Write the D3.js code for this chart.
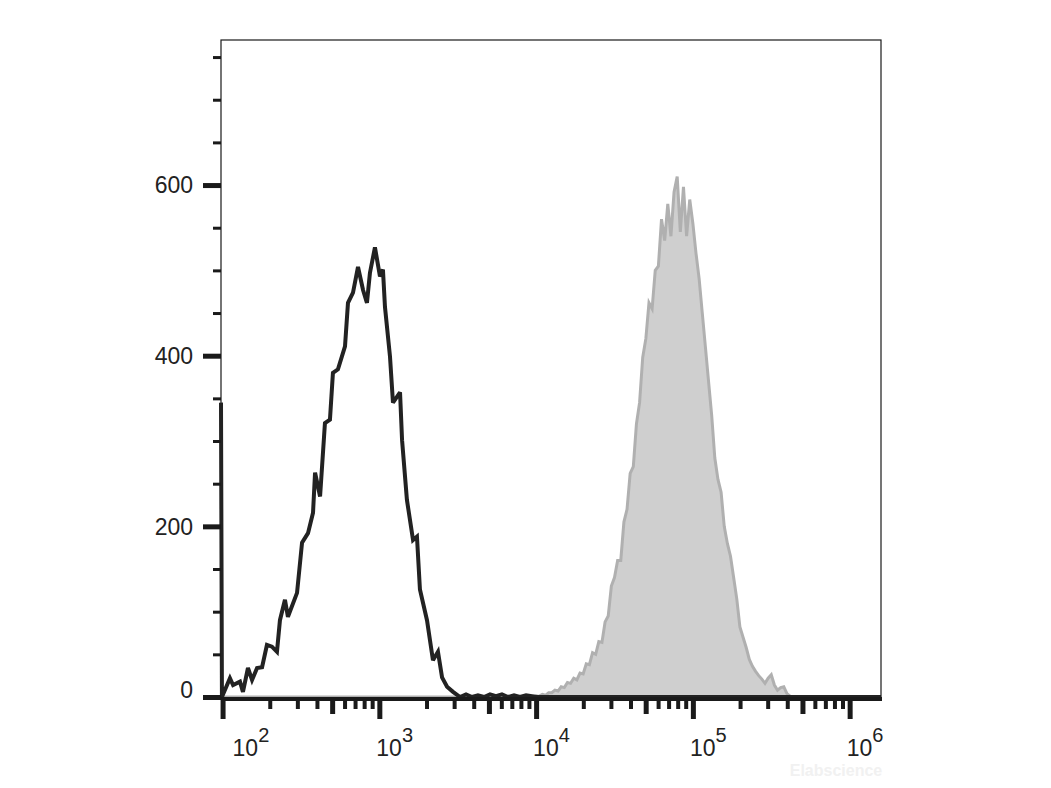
<!DOCTYPE html>
<html><head><meta charset="utf-8">
<script src="https://cdn.jsdelivr.net/npm/d3@7/dist/d3.min.js"></script>
<style>
body{margin:0;background:#fff}
svg{display:block}
text{font-family:"Liberation Sans",Arial,Helvetica,sans-serif}
</style>
</head><body>
<svg id="chart" width="1051" height="788"></svg>
<script>
// ---------- data ----------
const xDecades = [1e2, 1e3, 1e4, 1e5, 1e6];
const xDecadeExponents = ["2", "3", "4", "5", "6"];
const yMajorTicks = [0, 200, 400, 600];
const yMinorTicks = [50, 100, 150, 250, 300, 350, 450, 500, 550, 650, 700, 750];

// unstained / isotype (black outline) : log10(intensity), counts
const blackLogX = [1.990, 1.996, 2.047, 2.067, 2.111, 2.130, 2.162, 2.188, 2.220, 2.252,
  2.283, 2.315, 2.347, 2.366, 2.398, 2.417, 2.475, 2.507, 2.545, 2.577,
  2.590, 2.622, 2.653, 2.685, 2.704, 2.736, 2.781, 2.800, 2.832, 2.864,
  2.896, 2.921, 2.940, 2.972, 3.004, 3.023, 3.036, 3.068, 3.087, 3.132,
  3.145, 3.176, 3.215, 3.240, 3.259, 3.304, 3.342, 3.374, 3.400, 3.432,
  3.470, 3.515, 3.553, 3.591, 3.629, 3.668, 3.706, 3.744, 3.782, 3.821,
  3.859, 3.897, 3.936, 3.974, 4.012, 6.200];
const blackCounts = [345, 0, 22, 14, 18, 6, 34, 20, 34, 35,
  61, 59, 53, 90, 114, 94, 122, 181, 192, 216,
  263, 235, 321, 325, 380, 384, 411, 462, 474, 504,
  477, 462, 497, 527, 493, 501, 457, 399, 345, 357,
  301, 231, 184, 188, 126, 90, 43, 53, 23, 12,
  6, 0, 3, 0, 2, 0, 3, 1, 3, 0,
  2, 0, 2, 1, 0, 0];

// stained sample (grey filled) : log10(intensity), counts
const grayLogX = [1.99, 3.98,
  4.00, 4.02, 4.04, 4.06, 4.08, 4.10, 4.12, 4.14, 4.16, 4.18,
  4.20, 4.22, 4.24, 4.26, 4.28, 4.30, 4.32, 4.34, 4.36, 4.38,
  4.40, 4.42, 4.44, 4.46, 4.48, 4.50, 4.52, 4.54, 4.56, 4.58,
  4.60, 4.62, 4.64, 4.66, 4.68, 4.70, 4.72, 4.74, 4.76, 4.78,
  4.80, 4.82, 4.84, 4.86, 4.88, 4.90, 4.92, 4.94, 4.96, 4.98,
  5.00, 5.02, 5.04, 5.06, 5.08, 5.10, 5.12, 5.14, 5.16, 5.18,
  5.20, 5.22, 5.24, 5.26, 5.28, 5.30, 5.32, 5.34, 5.36, 5.38,
  5.40, 5.42, 5.44, 5.46, 5.48, 5.50, 5.52, 5.54, 5.56, 5.58,
  5.60, 5.62, 5.64, 6.20];
const grayCounts = [0, 0,
  1, 1, 3, 2, 5, 5, 8, 7, 12, 11,
  17, 16, 22, 20, 28, 27, 39, 38, 52, 50,
  65, 64, 88, 95, 130, 140, 160, 160, 205, 220,
  262, 270, 320, 345, 398, 420, 462, 455, 500, 505,
  560, 535, 578, 540, 592, 610, 545, 598, 540, 583,
  555, 520, 490, 450, 410, 370, 330, 280, 255, 240,
  200, 180, 165, 140, 115, 82, 70, 58, 44, 36,
  30, 25, 21, 16, 22, 26, 14, 8, 11, 12,
  4, 1, 0, 0];

// ---------- layout ----------
const plot = {left: 221, right: 881, top: 40, bottom: 697};
const svg = d3.select("#chart");

const x = d3.scaleLog().domain([Math.pow(10, 1.99), Math.pow(10, 6.2)]).range([plot.left, plot.right]);
const y = d3.scaleLinear().domain([0, 770]).range([plot.bottom, plot.top]);

const black = blackLogX.map((l, i) => ({x: Math.pow(10, l), v: blackCounts[i]}));
const gray = grayLogX.map((l, i) => ({x: Math.pow(10, l), v: grayCounts[i]}));

// frame
svg.append("rect")
  .attr("x", plot.left).attr("y", plot.top)
  .attr("width", plot.right - plot.left).attr("height", plot.bottom - plot.top)
  .attr("fill", "none").attr("stroke", "#1a1a1a").attr("stroke-width", 1.2);

// grey filled histogram
const area = d3.area().x(d => x(d.x)).y0(y(0)).y1(d => y(d.v));
const line = d3.line().x(d => x(d.x)).y(d => y(d.v));
svg.append("path").datum(gray).attr("d", area).attr("fill", "#cfcfcf");
svg.append("path").datum(gray).attr("d", line)
  .attr("fill", "none").attr("stroke", "#b0b0b0").attr("stroke-width", 3)
  .attr("stroke-linejoin", "miter");

// black outline histogram
svg.append("path").datum(black).attr("d", line)
  .attr("fill", "none").attr("stroke", "#222").attr("stroke-width", 4)
  .attr("stroke-linejoin", "miter").attr("stroke-miterlimit", 3);

// ---------- x axis ----------
const allXTicks = x.ticks().filter(t => t >= 100 && t <= 1e6);
const lead = t => Math.round(t / Math.pow(10, Math.floor(Math.log10(t) + 1e-9)));
const xMajor = allXTicks.filter(t => lead(t) === 1);
const xMedium = allXTicks.filter(t => lead(t) === 5);
const xMinor = allXTicks.filter(t => lead(t) !== 1 && lead(t) !== 5);

function xAxisLayer(vals, size, width) {
  const g = svg.append("g").attr("transform", `translate(0,${plot.bottom + 1})`)
    .call(d3.axisBottom(x).tickValues(vals).tickSize(size).tickFormat(""));
  g.select(".domain").remove();
  g.selectAll(".tick line").attr("stroke", "#1a1a1a").attr("stroke-width", width);
  return g;
}
xAxisLayer(xMinor, 11, 4);
xAxisLayer(xMedium, 16, 5);
xAxisLayer(xMajor, 21, 5);

// thick x baseline
svg.append("line")
  .attr("x1", plot.left).attr("x2", plot.right + 1)
  .attr("y1", plot.bottom + 2).attr("y2", plot.bottom + 2)
  .attr("stroke", "#1a1a1a").attr("stroke-width", 4);

// x labels 10^n
const xl = svg.append("g");
xDecades.forEach((d, i) => {
  const t = xl.append("text")
    .attr("x", x(d) + (i === 0 ? 10 : -3)).attr("y", 756)
    .attr("fill", "#222").attr("font-size", 23);
  t.append("tspan").text("10");
  t.append("tspan").attr("dy", -14).attr("font-size", 20).text(xDecadeExponents[i]);
});

// ---------- y axis ----------
function yAxisLayer(vals, size, width) {
  const g = svg.append("g").attr("transform", `translate(${plot.left},0)`)
    .call(d3.axisLeft(y).tickValues(vals).tickSize(size).tickFormat(""));
  g.select(".domain").remove();
  g.selectAll(".tick line").attr("stroke", "#1a1a1a").attr("stroke-width", width);
  return g;
}
yAxisLayer(yMinorTicks, 8, 3);
yAxisLayer(yMajorTicks, 18, 5);

svg.append("g").selectAll("text").data(yMajorTicks).join("text")
  .attr("x", 193)
  .attr("y", d => y(d) + (d === 0 ? -7 : 0))
  .attr("dy", "0.36em")
  .attr("text-anchor", "end")
  .attr("fill", "#222").attr("font-size", 23)
  .text(d => d);

// watermark
svg.append("text")
  .attr("x", 836).attr("y", 776).attr("text-anchor", "middle")
  .attr("font-size", 16).attr("font-weight", "bold")
  .attr("fill", "#f1f1f1").text("Elabscience");
</script>
</body></html>
